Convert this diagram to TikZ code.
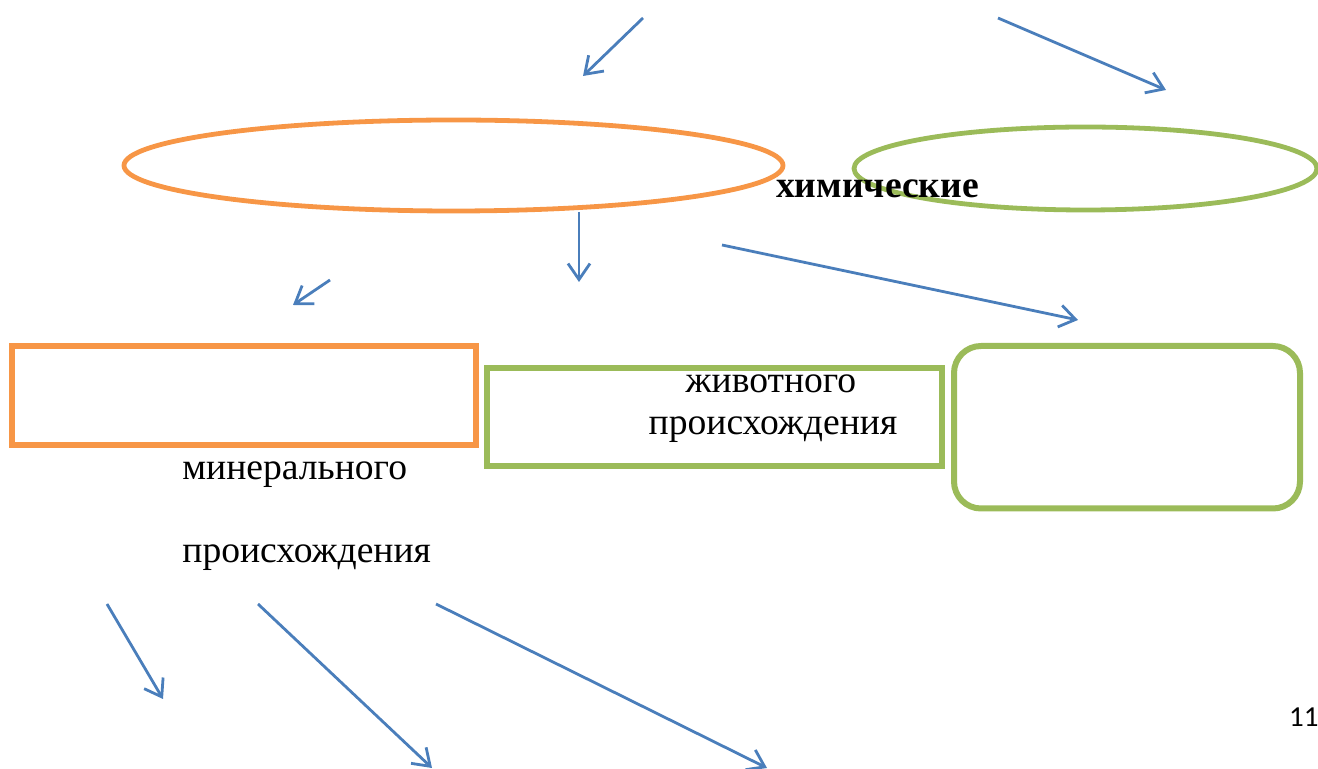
\documentclass[tikz,border=0pt]{standalone}
\usepackage{fontspec}
\setmainfont{Liberation Serif}
\newfontfamily\pagefont{Carlito}
\usepackage{tikz}
\usetikzlibrary{shapes.geometric, arrows.meta}
\definecolor{oxblue}{HTML}{4A7EBB}
\definecolor{oxorange}{HTML}{F79646}
\definecolor{oxgreen}{HTML}{9BBB59}
\tikzstyle{orangeell} = [ellipse, draw=oxorange, line width=2.4pt, inner sep=0pt]
\tikzstyle{greenell} = [ellipse, draw=oxgreen, line width=2.4pt, inner sep=0pt]
\tikzstyle{orangebox} = [rectangle, draw=oxorange, line width=3pt, inner sep=0pt]
\tikzstyle{greenbox} = [rectangle, draw=oxgreen, line width=3pt, inner sep=0pt]
\tikzstyle{greenround} = [rectangle, rounded corners=13.5pt, draw=oxgreen, line width=3pt, inner sep=0pt]
\tikzstyle{label} = [anchor=base, inner sep=0pt, font=\fontsize{18.8}{23}\selectfont]
\tikzstyle{arrow} = [draw=oxblue, line width=1.4pt, -{Straight Barb[length=8pt,width=11pt]}]

\begin{document}
\begin{tikzpicture}[x=0.5pt, y=-0.5pt]
\useasboundingbox (0,0) rectangle (1318,769);
\node (orangeEll) [orangeell, minimum width=329.5pt, minimum height=45.5pt] at (453.5,165.5) {};
\node (greenEll) [greenell, minimum width=231.5pt, minimum height=41.5pt] at (1085.5,168.5) {};
\node (chem) [label, font=\fontsize{18.8}{23}\selectfont\bfseries] at (877.5,198) {химические};
\node (mineralBox) [orangebox, minimum width=232pt, minimum height=49.75pt] at (244,395.75) {};
\node (animalBox) [greenbox, minimum width=227.5pt, minimum height=49pt] at (714.5,417) {};
\node (thirdBox) [greenround, minimum width=173pt, minimum height=81.25pt] at (1127,427.25) {};
\node (animalA) [label] at (771,393) {животного};
\node (animalB) [label] at (773,435) {происхождения};
\node (mineralA) [label, anchor=base west] at (182,480) {минерального};
\node (mineralB) [label, anchor=base west] at (182,563) {происхождения};
\node (pageNo) [anchor=base east, inner sep=0pt, font=\pagefont\fontsize{14.5}{17}\selectfont] at (1319,727) {11};

\coordinate (topLs) at (643,18);
\coordinate (topLe) at (583,76);
\coordinate (topRs) at (998,18);
\coordinate (topRe) at (1166,90);
\coordinate (midLs) at (330,280);
\coordinate (midLe) at (293,305);
\coordinate (midCs) at (579,212);
\coordinate (midCe) at (579,282);
\coordinate (midRs) at (722,245);
\coordinate (midRe) at (1078,320);
\coordinate (botAs) at (107,604);
\coordinate (botAe) at (163,699);
\coordinate (botBs) at (258,604);
\coordinate (botBe) at (432,768);
\coordinate (botCs) at (436,604);
\coordinate (botCe) at (767,768);

\draw [arrow] (topLs) -- (topLe);
\draw [arrow] (topRs) -- (topRe);
\draw [arrow] (midLs) -- (midLe);
\draw [arrow] (midCs) -- (midCe);
\draw [arrow] (midRs) -- (midRe);
\draw [arrow] (botAs) -- (botAe);
\draw [arrow] (botBs) -- (botBe);
\draw [arrow] (botCs) -- (botCe);
\end{tikzpicture}
\end{document}
